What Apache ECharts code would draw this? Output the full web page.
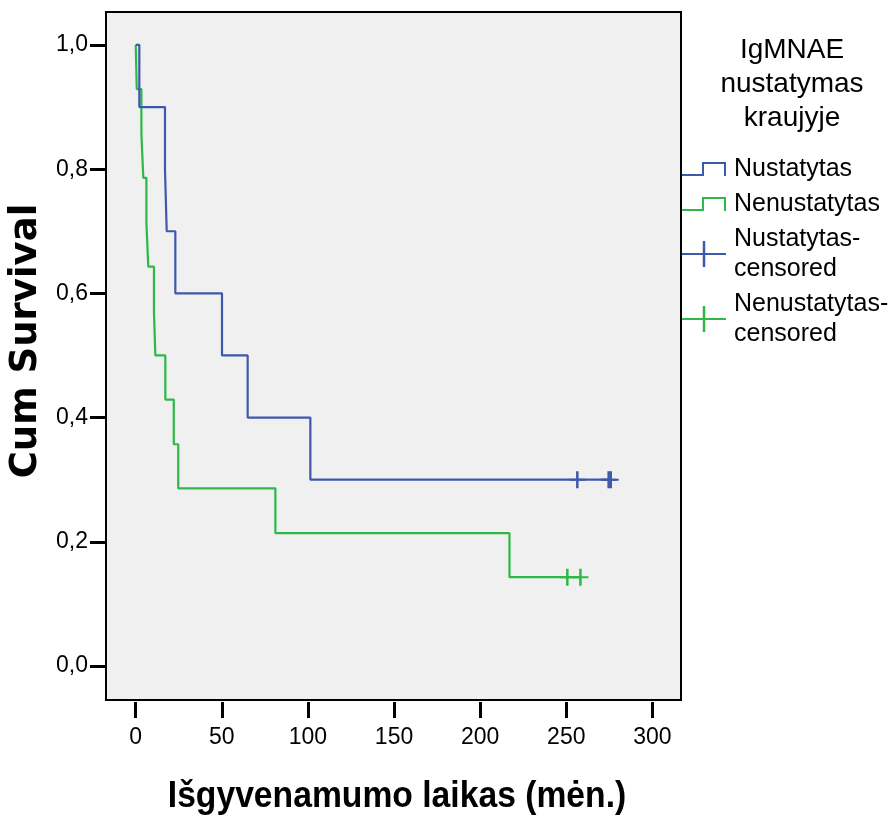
<!DOCTYPE html>
<html>
<head>
<meta charset="utf-8">
<script src="https://cdn.jsdelivr.net/npm/echarts@6/dist/echarts.min.js"></script>
<style>
  html, body { margin: 0; padding: 0; background: #fff; }
  #chart { width: 894px; height: 820px; }
</style>
</head>
<body>
<div id="chart"></div>
<script>
// Kaplan–Meier survival curves by IgMNAE detection in blood

const xTicks = [0, 50, 100, 150, 200, 250, 300];
const yTicks = [0, 0.2, 0.4, 0.6, 0.8, 1.0];

// "Nustatytas": event times (months) and cumulative survival after each event
const detectedTimes = [2.1, 17.0, 18.0, 23.0, 50.1, 65.0, 101.4];
const detectedSurv = [0.9, 0.8, 0.7, 0.6, 0.5, 0.4, 0.3];
const detectedCensored = [256.4, 274.6, 275.8];

// "Nenustatytas"
const notDetectedTimes = [0.6, 3.3, 4.4, 6.2, 7.3, 10.6, 11.4, 17.2, 22.1, 24.7, 81.1, 217.0];
const notDetectedSurv = [0.929, 0.857, 0.786, 0.714, 0.643, 0.571, 0.5, 0.429, 0.357, 0.286, 0.214, 0.143];
const notDetectedCensored = [250.6, 258.2];

const BLUE = '#3E58AC';
const GREEN = '#2EB848';
const SANS = "'Liberation Sans', Arial, sans-serif";

function curve(times, surv, censored) {
  const pts = [[0, 1]];
  times.forEach((t, i) => pts.push([t, surv[i]]));
  const end = Math.max(times[times.length - 1], ...censored);
  pts.push([end, surv[surv.length - 1]]);
  return pts;
}

function survivalAt(times, surv, t) {
  let s = 1;
  times.forEach((e, i) => { if (e <= t) s = surv[i]; });
  return s;
}

function censorPoints(times, surv, censored) {
  return censored.map(t => [t, survivalAt(times, surv, t)]);
}

const crossSymbol = 'path://M0,7.5h16v2h-16z M6.75,0h2.5v17h-2.5z';
const stepIcon = 'path://M0,12h22v2h-22z M20,0h2v14h-2z M20,0h24v2h-24z M42,0h2v14h-2z';
const crossIcon = 'path://M0,12h44v2h-44z M20.75,0h2.5v26h-2.5z';

const chart = echarts.init(document.getElementById('chart'), null, { renderer: 'canvas' });

chart.setOption({
  animation: false,
  backgroundColor: '#ffffff',
  title: {
    text: 'IgMNAE\nnustatymas\nkraujyje',
    left: 792,
    top: 33,
    padding: 0,
    textAlign: 'center',
    textStyle: { fontFamily: SANS, fontSize: 28, fontWeight: 'normal', lineHeight: 34, color: '#000' }
  },
  legend: {
    orient: 'vertical',
    left: 682,
    top: 154,
    padding: 0,
    itemWidth: 44,
    itemHeight: 26,
    itemGap: 5,
    selectedMode: false,
    itemStyle: { borderWidth: 0 },
    textStyle: { fontFamily: SANS, fontSize: 25, lineHeight: 30, color: '#000', padding: [0, 0, 0, 3] },
    formatter: n => n.replace('-censored', '-\ncensored'),
    data: [
      { name: 'Nustatytas', icon: stepIcon },
      { name: 'Nenustatytas', icon: stepIcon },
      { name: 'Nustatytas-censored', icon: crossIcon },
      { name: 'Nenustatytas-censored', icon: crossIcon }
    ]
  },
  // condensed bold axis title below the time axis
  graphic: [{
    type: 'text',
    x: 397,
    y: 796.5,
    scaleX: 0.91,
    silent: true,
    style: {
      text: 'Išgyvenamumo laikas (mėn.)',
      font: "bold 37px 'Liberation Sans', Arial, sans-serif",
      fill: '#000',
      textAlign: 'center',
      textVerticalAlign: 'middle'
    }
  }],
  grid: {
    left: 106, top: 12, width: 575, height: 688,
    show: true,
    backgroundColor: '#f0f0f0',
    borderColor: '#000',
    borderWidth: 2
  },
  xAxis: {
    type: 'value',
    min: -17.25,
    max: 316.6,
    position: 'bottom',
    offset: 2,
    axisLine: { show: false, onZero: false },
    splitLine: { show: false },
    axisTick: { show: true, length: 16, customValues: xTicks, lineStyle: { color: '#000', width: 3 } },
    axisLabel: { customValues: xTicks, margin: 24, fontFamily: SANS, fontSize: 23, color: '#000' }
  },
  yAxis: {
    type: 'value',
    min: -0.0548,
    max: 1.0531,
    axisLine: { show: false, onZero: false },
    splitLine: { show: false },
    axisTick: { show: true, length: 16, customValues: yTicks, lineStyle: { color: '#000', width: 3 } },
    axisLabel: {
      customValues: yTicks,
      margin: 18,
      fontFamily: SANS,
      fontSize: 23,
      color: '#000',
      formatter: v => v.toFixed(1).replace('.', ',')
    },
    name: 'Cum Survival',
    nameLocation: 'middle',
    nameRotate: 90,
    nameGap: 59,
    nameTextStyle: { fontFamily: "'DejaVu Sans', sans-serif", fontSize: 37, fontWeight: 'bold', color: '#000', padding: [0, 0, 0, 30] }
  },
  series: [
    {
      name: 'Nustatytas',
      type: 'line',
      step: 'end',
      symbol: 'none',
      data: curve(detectedTimes, detectedSurv, detectedCensored),
      lineStyle: { color: BLUE, width: 2.2 },
      itemStyle: { color: BLUE },
      z: 3
    },
    {
      name: 'Nenustatytas',
      type: 'line',
      step: 'end',
      symbol: 'none',
      data: curve(notDetectedTimes, notDetectedSurv, notDetectedCensored),
      lineStyle: { color: GREEN, width: 2.2 },
      itemStyle: { color: GREEN },
      z: 2
    },
    {
      name: 'Nustatytas-censored',
      type: 'scatter',
      symbol: crossSymbol,
      symbolSize: [16, 17],
      data: censorPoints(detectedTimes, detectedSurv, detectedCensored),
      itemStyle: { color: BLUE, opacity: 1 },
      z: 4
    },
    {
      name: 'Nenustatytas-censored',
      type: 'scatter',
      symbol: crossSymbol,
      symbolSize: [16, 17],
      data: censorPoints(notDetectedTimes, notDetectedSurv, notDetectedCensored),
      itemStyle: { color: GREEN, opacity: 1 },
      z: 4
    }
  ]
});
</script>
</body>
</html>
